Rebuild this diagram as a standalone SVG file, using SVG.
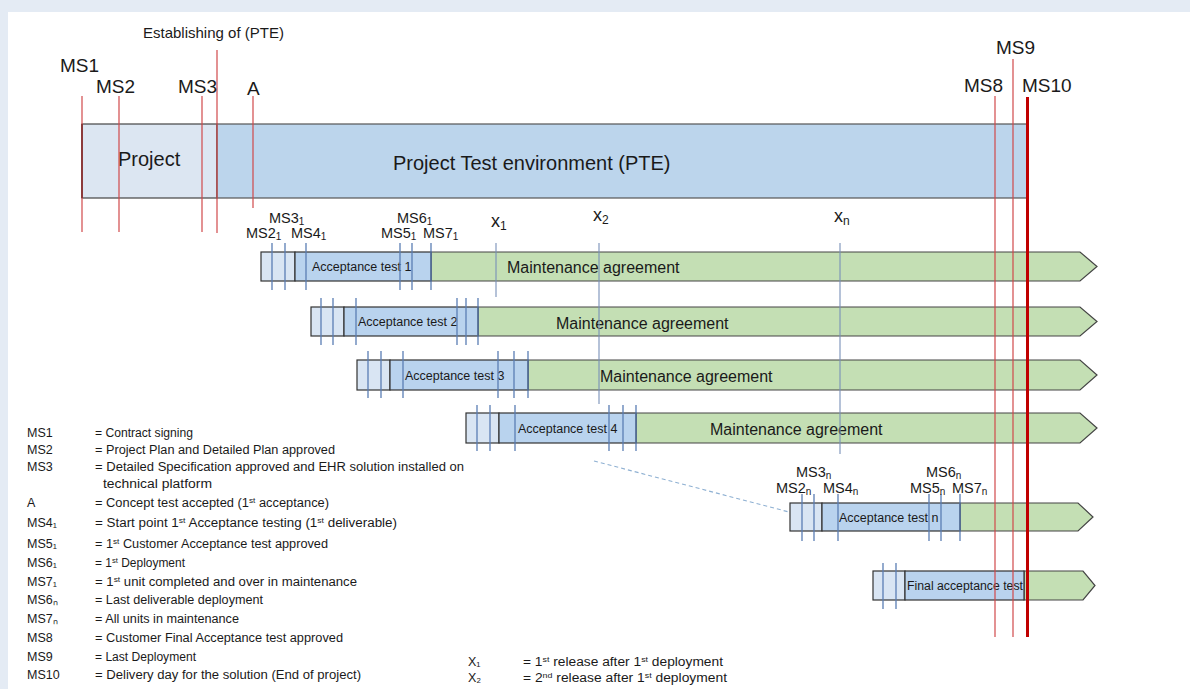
<svg xmlns="http://www.w3.org/2000/svg" width="1190" height="689" viewBox="0 0 1190 689">
<style>
text{font-family:"Liberation Sans",Arial,sans-serif;fill:#1a1a1a}
.big{font-size:19px}
.ms{font-size:14.5px}
.sub{font-size:10px}
.at{font-size:12.5px}
.ma{font-size:16px}
.lg{font-size:12.5px}
.sup{font-size:8px}
.red{stroke:#d0484a;stroke-width:1.2;fill:none}
.blu{stroke:#5a7db4;stroke-width:1.3;fill:none}
.xl{stroke:#7890b8;stroke-width:1.1;fill:none}
.sm{fill:#d9e5f3;stroke:#333;stroke-width:1.2}
.acc{fill:#b9d3ee;stroke:#333;stroke-width:1.2}
.grn{fill:#c4dfb4;stroke:#444;stroke-width:1.2}
</style>
<rect x="0" y="0" width="1190" height="689" fill="#e4ebf4"/>
<rect x="8" y="12" width="1182" height="677" fill="#ffffff"/>

<g id="top-bar">
<rect x="82" y="124" width="135" height="74" fill="#dce6f2" stroke="#444" stroke-width="1.2"/>
<rect x="217" y="124" width="810" height="74" fill="#bcd5ec" stroke="#555" stroke-width="1.2"/>
<line x1="82" y1="124" x2="82" y2="198" stroke="#111" stroke-width="1.6"/>
<text x="118" y="166" style="font-size:20px">Project</text>
<text x="393" y="170" style="font-size:20px">Project Test environment (PTE)</text>
</g>

<g id="row1">
<polygon class="grn" points="431,252 1080,252 1097,266.5 1080,281 431,281"/>
<rect class="sm" x="261" y="252" width="34" height="29"/>
<rect class="acc" x="295" y="252" width="136" height="29"/>
<text class="at" x="312" y="271">Acceptance test 1</text>
<text class="ma" x="507" y="273">Maintenance agreement</text>
</g>
<g id="row2">
<polygon class="grn" points="478,307 1080,307 1097,321.5 1080,336 478,336"/>
<rect class="sm" x="311" y="307" width="33" height="29"/>
<rect class="acc" x="344" y="307" width="134" height="29"/>
<text class="at" x="358" y="326">Acceptance test 2</text>
<text class="ma" x="556" y="329">Maintenance agreement</text>
</g>
<g id="row3">
<polygon class="grn" points="528,360 1080,360 1097,375 1080,390 528,390"/>
<rect class="sm" x="357" y="360" width="33" height="30"/>
<rect class="acc" x="390" y="360" width="138" height="30"/>
<text class="at" x="405" y="380">Acceptance test 3</text>
<text class="ma" x="600" y="382">Maintenance agreement</text>
</g>
<g id="row4">
<polygon class="grn" points="636,413 1080,413 1097,428 1080,443 636,443"/>
<rect class="sm" x="466" y="413" width="33" height="30"/>
<rect class="acc" x="499" y="413" width="137" height="30"/>
<text class="at" x="518" y="433">Acceptance test 4</text>
<text class="ma" x="710" y="435">Maintenance agreement</text>
</g>
<g id="row-n">
<polygon class="grn" points="960,503 1078,503 1093,517 1078,531 960,531"/>
<rect class="sm" x="790" y="503" width="32" height="28"/>
<rect class="acc" x="822" y="503" width="138" height="28"/>
<text class="at" x="839" y="522">Acceptance test n</text>
</g>
<g id="row-final">
<polygon class="grn" points="1024,571 1083,571 1095,585.5 1083,600 1024,600"/>
<rect class="sm" x="873" y="571" width="32" height="29"/>
<rect class="acc" x="905" y="571" width="119" height="29"/>
<text class="at" x="907" y="590" textLength="116" lengthAdjust="spacingAndGlyphs">Final acceptance test</text>
</g>

<g id="connectors">
<line class="xl" x1="496" y1="243" x2="496" y2="297"/>
<line class="xl" x1="599" y1="243" x2="599" y2="404"/>
<line class="xl" x1="840" y1="243" x2="840" y2="454"/>
<line x1="594" y1="461" x2="789" y2="512" stroke="#8eb0d2" stroke-width="1.1" stroke-dasharray="4 3"/>
<g class="blu">
<line x1="272" y1="243" x2="272" y2="290"/><line x1="285" y1="243" x2="285" y2="290"/><line x1="306" y1="243" x2="306" y2="290"/>
<line x1="400" y1="243" x2="400" y2="290"/><line x1="412" y1="243" x2="412" y2="290"/><line x1="431" y1="243" x2="431" y2="290"/>
<line x1="321" y1="298" x2="321" y2="345"/><line x1="333" y1="298" x2="333" y2="345"/><line x1="356" y1="298" x2="356" y2="345"/>
<line x1="457" y1="298" x2="457" y2="345"/><line x1="466" y1="298" x2="466" y2="345"/><line x1="478" y1="298" x2="478" y2="345"/>
<line x1="368" y1="351" x2="368" y2="398"/><line x1="381" y1="351" x2="381" y2="398"/><line x1="403" y1="351" x2="403" y2="398"/>
<line x1="498" y1="351" x2="498" y2="398"/><line x1="514" y1="351" x2="514" y2="398"/><line x1="528" y1="351" x2="528" y2="398"/>
<line x1="477" y1="405" x2="477" y2="451"/><line x1="490" y1="405" x2="490" y2="451"/><line x1="515" y1="405" x2="515" y2="451"/>
<line x1="609" y1="405" x2="609" y2="451"/><line x1="623" y1="405" x2="623" y2="451"/><line x1="636" y1="405" x2="636" y2="451"/>
<line x1="802" y1="494" x2="802" y2="541"/><line x1="814" y1="494" x2="814" y2="541"/><line x1="838" y1="494" x2="838" y2="541"/>
<line x1="929" y1="494" x2="929" y2="541"/><line x1="941" y1="494" x2="941" y2="541"/><line x1="960" y1="494" x2="960" y2="541"/>
<line x1="883" y1="563" x2="883" y2="609"/><line x1="896" y1="563" x2="896" y2="609"/>
</g>
<line class="red" x1="82" y1="96" x2="82" y2="232"/>
<line class="red" x1="119" y1="96" x2="119" y2="232"/>
<line class="red" x1="202" y1="96" x2="202" y2="232"/>
<line class="red" x1="217" y1="50" x2="217" y2="233"/>
<line class="red" x1="253" y1="96" x2="253" y2="208"/>
<line class="red" x1="995" y1="96" x2="995" y2="637"/>
<line class="red" x1="1013" y1="59" x2="1013" y2="637"/>
<line x1="1027.5" y1="97" x2="1027.5" y2="637" stroke="#c00000" stroke-width="3"/>
</g>

<g id="top-labels">
<text x="143" y="38" style="font-size:15px">Establishing of (PTE)</text>
<text class="big" x="60" y="72">MS1</text>
<text class="big" x="96" y="93">MS2</text>
<text class="big" x="178" y="93">MS3</text>
<text class="big" x="247" y="95">A</text>
<text class="big" x="996" y="54">MS9</text>
<text class="big" x="964" y="92">MS8</text>
<text class="big" x="1022" y="92">MS10</text>
</g>

<g id="row-labels">
<text class="ms" x="269" y="223">MS3<tspan class="sub" dy="1.5">1</tspan></text>
<text class="ms" x="246" y="238">MS2<tspan class="sub" dy="1.5">1</tspan></text>
<text class="ms" x="291" y="238">MS4<tspan class="sub" dy="1.5">1</tspan></text>
<text class="ms" x="397" y="223">MS6<tspan class="sub" dy="1.5">1</tspan></text>
<text class="ms" x="381" y="238">MS5<tspan class="sub" dy="1.5">1</tspan></text>
<text class="ms" x="423" y="238">MS7<tspan class="sub" dy="1.5">1</tspan></text>
<text x="491" y="227" style="font-size:18px">x<tspan class="sub" style="font-size:12px" dy="3">1</tspan></text>
<text x="593" y="221" style="font-size:18px">x<tspan class="sub" style="font-size:12px" dy="3">2</tspan></text>
<text x="834" y="222" style="font-size:18px">x<tspan class="sub" style="font-size:12px" dy="3">n</tspan></text>
<text class="ms" x="796" y="477">MS3<tspan class="sub" dy="1.5">n</tspan></text>
<text class="ms" x="776" y="493">MS2<tspan class="sub" dy="1.5">n</tspan></text>
<text class="ms" x="823" y="493">MS4<tspan class="sub" dy="1.5">n</tspan></text>
<text class="ms" x="926" y="477">MS6<tspan class="sub" dy="1.5">n</tspan></text>
<text class="ms" x="910" y="493">MS5<tspan class="sub" dy="1.5">n</tspan></text>
<text class="ms" x="952" y="493">MS7<tspan class="sub" dy="1.5">n</tspan></text>
</g>

<g id="legend">
<text class="lg" x="27" y="437">MS1</text><text class="lg" x="95" y="437" textLength="98" lengthAdjust="spacingAndGlyphs">= Contract signing</text>
<text class="lg" x="27" y="454">MS2</text><text class="lg" x="95" y="454" textLength="240" lengthAdjust="spacingAndGlyphs">= Project Plan and Detailed Plan approved</text>
<text class="lg" x="27" y="471">MS3</text><text class="lg" x="95" y="471" textLength="369" lengthAdjust="spacingAndGlyphs">= Detailed Specification approved and EHR solution installed on</text>
<text class="lg" x="103" y="488" textLength="109" lengthAdjust="spacingAndGlyphs">technical platform</text>
<text class="lg" x="27" y="507">A</text><text class="lg" x="95" y="507" textLength="234" lengthAdjust="spacingAndGlyphs">= Concept test accepted (1<tspan class="sup" dy="-4">st</tspan><tspan dy="4"> acceptance)</tspan></text>
<text class="lg" x="27" y="527">MS4₁</text><text class="lg" x="95" y="527" textLength="302" lengthAdjust="spacingAndGlyphs">= Start point 1<tspan class="sup" dy="-4">st</tspan><tspan dy="4"> Acceptance testing (1</tspan><tspan class="sup" dy="-4">st</tspan><tspan dy="4"> deliverable)</tspan></text>
<text class="lg" x="27" y="548">MS5₁</text><text class="lg" x="95" y="548" textLength="233" lengthAdjust="spacingAndGlyphs">= 1<tspan class="sup" dy="-4">st</tspan><tspan dy="4"> Customer Acceptance test approved</tspan></text>
<text class="lg" x="27" y="567">MS6₁</text><text class="lg" x="95" y="567" textLength="90" lengthAdjust="spacingAndGlyphs">= 1<tspan class="sup" dy="-4">st</tspan><tspan dy="4"> Deployment</tspan></text>
<text class="lg" x="27" y="586">MS7₁</text><text class="lg" x="95" y="586" textLength="262" lengthAdjust="spacingAndGlyphs">= 1<tspan class="sup" dy="-4">st</tspan><tspan dy="4"> unit completed and over in maintenance</tspan></text>
<text class="lg" x="27" y="604">MS6ₙ</text><text class="lg" x="95" y="604" textLength="168" lengthAdjust="spacingAndGlyphs">= Last deliverable deployment</text>
<text class="lg" x="27" y="623">MS7ₙ</text><text class="lg" x="95" y="623" textLength="144" lengthAdjust="spacingAndGlyphs">= All units in maintenance</text>
<text class="lg" x="27" y="642">MS8</text><text class="lg" x="95" y="642" textLength="248" lengthAdjust="spacingAndGlyphs">= Customer Final Acceptance test approved</text>
<text class="lg" x="27" y="661">MS9</text><text class="lg" x="95" y="661" textLength="101" lengthAdjust="spacingAndGlyphs">= Last Deployment</text>
<text class="lg" x="27" y="679">MS10</text><text class="lg" x="95" y="679" textLength="266" lengthAdjust="spacingAndGlyphs">= Delivery day for the solution (End of project)</text>
<text class="lg" x="468" y="666">X₁</text><text class="lg" x="523" y="666" textLength="200" lengthAdjust="spacingAndGlyphs">= 1<tspan class="sup" dy="-4">st</tspan><tspan dy="4"> release after 1</tspan><tspan class="sup" dy="-4">st</tspan><tspan dy="4"> deployment</tspan></text>
<text class="lg" x="468" y="682">X₂</text><text class="lg" x="523" y="682" textLength="204" lengthAdjust="spacingAndGlyphs">= 2<tspan class="sup" dy="-4">nd</tspan><tspan dy="4"> release after 1</tspan><tspan class="sup" dy="-4">st</tspan><tspan dy="4"> deployment</tspan></text>
</g>
</svg>
